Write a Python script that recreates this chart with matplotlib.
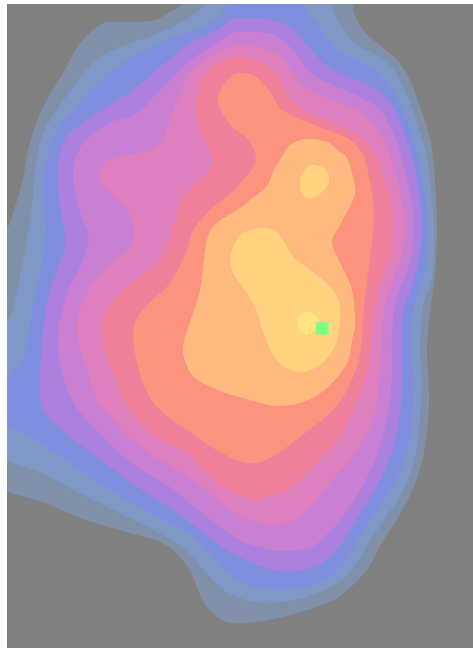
import numpy as np
import matplotlib
matplotlib.use("Agg")
import matplotlib.pyplot as plt
from matplotlib.path import Path
from matplotlib.patches import PathPatch


# contour outlines, in picture pixels
level_1 = [(182, 4), (170, 12), (150, 21), (110, 22), (97, 27), (80, 43), (63, 73), (43, 107), (30, 143), (22, 183),
           (13, 213), (7, 228), (-20, 262), (-20, 470), (7, 491), (43, 502), (83, 519), (130, 533), (160, 542),
           (177, 554), (190, 571), (203, 601), (217, 617), (233, 623), (256, 622), (283, 617), (316, 607), (340, 596),
           (366, 571), (383, 541), (400, 514), (415, 484), (425, 447), (429, 400), (427, 350), (430, 313), (435, 273),
           (437, 233), (436, 200), (433, 157), (427, 127), (420, 107), (410, 80), (397, 60), (377, 43), (363, 30),
           (353, 10), (348, -20), (190, -20)]
level_2 = [(205, 4), (190, 17), (170, 28), (140, 40), (113, 50), (93, 63), (73, 87), (57, 110), (43, 133), (35, 167),
           (32, 207), (23, 260), (15, 300), (7, 323), (-20, 370), (-20, 445), (7, 461), (43, 474), (77, 492),
           (130, 518), (163, 535), (187, 551), (207, 574), (227, 592), (253, 602), (276, 603), (306, 597),
           (333, 586), (350, 572), (366, 547), (386, 517), (403, 491), (415, 457), (420, 417), (422, 380), (420, 350),
           (423, 307), (432, 277), (434, 233), (432, 200), (427, 157), (418, 127), (410, 103), (398, 77), (383, 58),
           (357, 45), (342, 27), (333, 10), (326, -20), (215, -20)]
level_3 = [(227, 4), (213, 22), (187, 33), (160, 43), (133, 57), (100, 80), (73, 110), (57, 130), (47, 157), (43, 187),
           (46, 230), (43, 257), (35, 293), (30, 323), (28, 334), (23, 357), (7, 379), (-20, 395), (-20, 412), (7, 426),
           (33, 439), (67, 461), (100, 484), (130, 502), (163, 520), (193, 537), (213, 559), (233, 577), (253, 586),
           (280, 590), (306, 587), (326, 579), (346, 561), (363, 531), (383, 501), (400, 471), (410, 437), (414, 395),
           (414, 373), (411, 350), (412, 327), (415, 303), (425, 270), (428, 233), (425, 200), (418, 157), (410, 127),
           (398, 100), (383, 77), (363, 63), (340, 52), (330, 42), (317, 23), (305, 10), (298, -20), (235, -20)]
level_4 = [(233, 19), (253, 18), (270, 20), (287, 25), (303, 40), (323, 63), (340, 73), (367, 85), (383, 95), (398, 117),
           (412, 157), (420, 200), (422, 233), (418, 263), (412, 287), (403, 313), (402, 350), (402, 383), (401, 405),
           (396, 437), (383, 474), (366, 504), (346, 537), (330, 557), (313, 567), (290, 572), (263, 567), (227, 550),
           (200, 530), (170, 508), (130, 482), (93, 454), (63, 431), (43, 410), (40, 395), (40, 373), (43, 333),
           (48, 297), (57, 270), (65, 245), (64, 230), (60, 207), (58, 173), (63, 143), (77, 127), (107, 107), (133, 90),
           (160, 67), (190, 43), (217, 30)]
level_5 = [(233, 33), (253, 32), (270, 34), (283, 40), (297, 55), (313, 75), (333, 85), (360, 97), (380, 110), (393, 133),
           (402, 160), (412, 200), (413, 230), (410, 263), (397, 297), (392, 333), (392, 373), (388, 413), (376, 457),
           (360, 491), (340, 521), (330, 531), (312, 547), (286, 551), (263, 548), (240, 540), (207, 517), (170, 487),
           (130, 462), (90, 424), (72, 400), (63, 377), (58, 347), (60, 320), (68, 290), (82, 263), (88, 243), (87, 230),
           (80, 213), (73, 173), (83, 143), (110, 123), (137, 113), (160, 90), (187, 63), (213, 45)]
level_6 = [(233, 45), (250, 45), (270, 50), (280, 55), (293, 73), (307, 88), (327, 98), (357, 110), (373, 123), (385, 143),
           (392, 160), (402, 200), (405, 230), (400, 260), (387, 297), (382, 333), (380, 373), (375, 413), (357, 450),
           (330, 483), (300, 517), (273, 525), (257, 522), (227, 508), (197, 483), (157, 458), (130, 438), (113, 420),
           (97, 400), (87, 370), (78, 343), (78, 317), (90, 287), (110, 263), (130, 247), (134, 230), (127, 210),
           (107, 190), (99, 177), (107, 160), (127, 155), (150, 150), (163, 137), (177, 100), (190, 73), (213, 55)]
level_7 = [(233, 57), (250, 58), (270, 67), (280, 80), (290, 98), (307, 112), (333, 123), (357, 135), (370, 147), (378, 160),
           (390, 200), (393, 223), (390, 257), (378, 290), (372, 333), (368, 370), (357, 400), (337, 440), (306, 474),
           (287, 490), (257, 499), (240, 495), (213, 480), (187, 453), (150, 433), (130, 412), (123, 400), (115, 377),
           (105, 353), (102, 327), (113, 300), (140, 277), (162, 257), (172, 230), (183, 197), (203, 177), (213, 160),
           (200, 130), (196, 103), (203, 77), (220, 62)]
level_8 = [(243, 73), (256, 77), (270, 92), (280, 108), (297, 118), (320, 127), (347, 138), (360, 150), (365, 160),
           (373, 200), (373, 233), (368, 273), (363, 317), (362, 340), (358, 363), (347, 390), (330, 413), (300, 437),
           (270, 458), (247, 463), (220, 452), (187, 430), (157, 407), (142, 380), (133, 340), (137, 318), (150, 302),
           (170, 283), (187, 250), (193, 230), (213, 207), (233, 191), (253, 167), (255, 153), (246, 137), (233, 128),
           (227, 120), (218, 103), (222, 87), (233, 75)]
level_9 = [(280, 160), (290, 145), (307, 139), (327, 142), (340, 152), (348, 160), (355, 187), (353, 200), (340, 225),
           (332, 242), (340, 263), (352, 290), (355, 323), (352, 340), (347, 363), (327, 388), (303, 402), (277, 406),
           (257, 402), (223, 392), (198, 380), (188, 368), (183, 347), (193, 313), (200, 290), (207, 240), (217, 223),
           (240, 208), (250, 200), (266, 187), (273, 172)]
level_10a = [(315, 165), (326, 170), (329, 182), (321, 193), (310, 199), (301, 192), (301, 177), (308, 167)]
level_10b = [(263, 228), (276, 232), (285, 243), (293, 257), (310, 270), (330, 287), (340, 307), (337, 340), (328, 357),
             (315, 368), (300, 372), (283, 366), (271, 351), (263, 331), (256, 310), (243, 287), (233, 273), (230, 260),
             (233, 247), (243, 233)]
level_11 = [(308, 312), (316, 316), (318, 325), (310, 334), (300, 330), (297, 322), (300, 315)]

levels = [level_1, level_2, level_3, level_4, level_5, level_6, level_7, level_8, level_9,
          level_10a, level_10b, level_11]
colors = ["#8090a8", "#7f98c6", "#7f8ede", "#ac80df", "#c97fd2", "#de7fbe", "#f0809a", "#fb937f", "#ffbb7f",
          "#ffd37f", "#ffd37f", "#ffe47f"]
marker_x, marker_y = [321.5], [327.5]


def smooth_closed(points):
    # closed Catmull-Rom through the read points, as bezier segments
    p = np.array(points, dtype=float)
    before, after = np.roll(p, 1, axis=0), np.roll(p, -1, axis=0)
    after2 = np.roll(p, -2, axis=0)
    verts = [p[0]]
    codes = [Path.MOVETO]
    for i in range(len(p)):
        verts += [p[i] + (after[i] - before[i]) / 6, after[i] - (after2[i] - p[i]) / 6, after[i]]
        codes += [Path.CURVE4] * 3
    return Path(verts, codes)


fig = plt.figure(figsize=(4.73, 6.48), dpi=100, facecolor="white")
ax = fig.add_axes([6.5 / 473, 0, 466.5 / 473, 644 / 648])
ax.set_facecolor("#808080")
ax.set_xlim(6.5, 473)
ax.set_ylim(648, 4)
ax.axis("off")
ax.add_patch(plt.Rectangle((6.5, 4), 466.5, 644, fc="#808080", ec="none"))

for outline, color in zip(levels, colors):
    ax.add_patch(PathPatch(smooth_closed(outline), fc=color, ec="none"))

ax.scatter(marker_x, marker_y, marker="s", s=(13 * 0.72) ** 2, color="#7fff7f", linewidths=0, zorder=5)

fig.savefig("out.png", dpi=100)
